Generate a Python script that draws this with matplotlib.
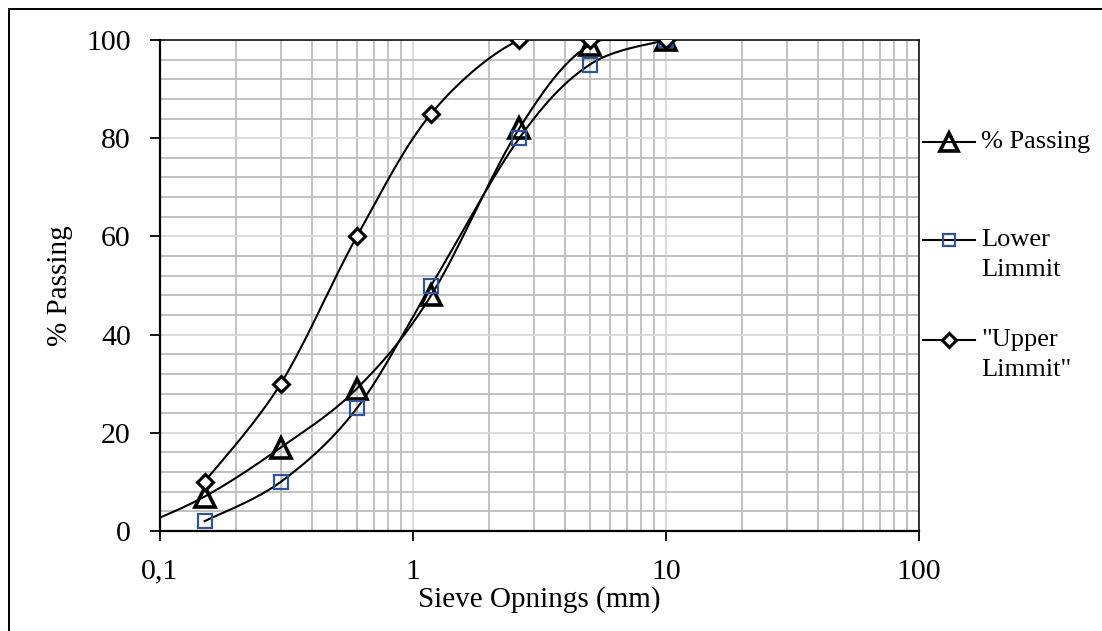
import numpy as np
import matplotlib
matplotlib.use("Agg")
import matplotlib.pyplot as plt
from matplotlib.lines import Line2D
from matplotlib.patches import Rectangle
from matplotlib.ticker import FixedLocator, FuncFormatter, NullFormatter

plt.rcParams['font.family'] = ['Liberation Serif', 'DejaVu Serif']

# data
sieve = [0.15, 0.3, 0.6, 1.18, 2.63, 5, 10]
passing_x = [0.075] + sieve
passing = [0, 7, 17, 29, 48, 82, 99, 100]
lower = [2, 10, 25, 50, 80, 95, 100]
upper = [10, 30, 60, 85, 100, 100, 100]

W, H = 1102, 631
fig = plt.figure(figsize=(W / 100, H / 100), dpi=100)
ax = fig.add_axes([160 / W, 1 - 531 / H, (919 - 160) / W, (531 - 40) / H])

ax.set_xscale('log')
ax.set_xlim(0.1, 100)
ax.set_ylim(0, 100)

# grid: major lighter, minor darker (as in the original)
ax.xaxis.set_major_locator(FixedLocator([0.1, 1, 10, 100]))
ax.xaxis.set_minor_locator(FixedLocator([m * d for d in (0.1, 1, 10) for m in range(2, 10)]))
ax.yaxis.set_major_locator(FixedLocator(range(0, 101, 20)))
ax.yaxis.set_minor_locator(FixedLocator([v for v in range(0, 101, 4) if v % 20]))
ax.xaxis.set_major_formatter(FuncFormatter(lambda v, p: ('%g' % v).replace('.', ',')))
ax.xaxis.set_minor_formatter(NullFormatter())
ax.grid(which='major', color='#d9d9d9', lw=1.3)
ax.grid(which='minor', color='#bdbdbd', lw=1.3)
ax.set_axisbelow(True)
ax.tick_params(which='major', direction='out', length=7, width=1.3, labelsize=21.5, color='black')
ax.tick_params(axis='y', pad=14)
ax.tick_params(axis='x', pad=13)
ax.tick_params(which='minor', length=0)
for s in ax.spines.values():
    s.set_color('black')
    s.set_linewidth(1.1)
ax.spines['left'].set_linewidth(1.6)
ax.spines['bottom'].set_linewidth(1.6)

ax.set_xlabel('Sieve Opnings (mm)', fontsize=21)
ax.set_ylabel('% Passing', fontsize=21)
ax.xaxis.set_label_coords(0.5, -(600 - 531) / (531 - 40), transform=ax.transAxes)
ax.xaxis.label.set_va('center')
ax.yaxis.set_label_coords(-(160 - 60) / (919 - 160), 0.5, transform=ax.transAxes)
ax.yaxis.label.set_va('center')


def smooth(xs, ys, n=30):
    # Excel style smoothed line, built in display space
    tr = ax.transData
    p = tr.transform(np.column_stack([xs, ys]))
    p = np.vstack([p[0], p, p[-1]])
    t = np.linspace(0, 1, n)[:, None]
    out = []
    for i in range(1, len(p) - 2):
        p0, p1 = p[i], p[i + 1]
        c1 = p0 + (p[i + 1] - p[i - 1]) / 6
        c2 = p1 - (p[i + 2] - p[i]) / 6
        seg = (1 - t) ** 3 * p0 + 3 * (1 - t) ** 2 * t * c1 + 3 * (1 - t) * t ** 2 * c2 + t ** 3 * p1
        out.append(seg)
    out = tr.inverted().transform(np.vstack(out))
    return out[:, 0], out[:, 1]


blue = '#2f5597'
styles = [
    (passing_x, passing, dict(marker='^', ms=14, mew=2.6, mec='black', mfc='none')),
    (sieve, lower, dict(marker='s', ms=10.5, mew=1.6, mec=blue, mfc='none')),
    (sieve, upper, dict(marker='D', ms=8.5, mew=2.2, mec='black', mfc='white')),
]
for xs, ys, mk in styles:
    sx, sy = smooth(xs, ys)
    ax.plot(sx, sy, color='black', lw=1.5, zorder=3)
    ax.plot(xs, ys, ls='none', zorder=4, **mk)

# legend drawn by hand to keep Excel's layout
legend_rows = [
    (142, ['% Passing'], styles[0][2]),
    (240, ['Lower', 'Limmit'], styles[1][2]),
    (340, ['"Upper', 'Limmit"'], styles[2][2]),
]
for ypx, lines, mk in legend_rows:
    yf = 1 - ypx / H
    fig.add_artist(Line2D([923 / W, 975 / W], [yf, yf], color='black', lw=1.5))
    m = dict(mk)
    m['ms'] = m['ms'] * 0.88
    fig.add_artist(Line2D([949 / W], [yf], ls='none', **m))
    for k, txt in enumerate(lines):
        fig.text(981 / W, 1 - (ypx + 30 * k) / H, txt, fontsize=19, va='center', ha='left')

fig.add_artist(Rectangle((9 / W, -0.5), 2, 1.5 - 9 / H, transform=fig.transFigure,
                         fill=False, ec='black', lw=1.4))

fig.savefig('out.png', dpi=100)
